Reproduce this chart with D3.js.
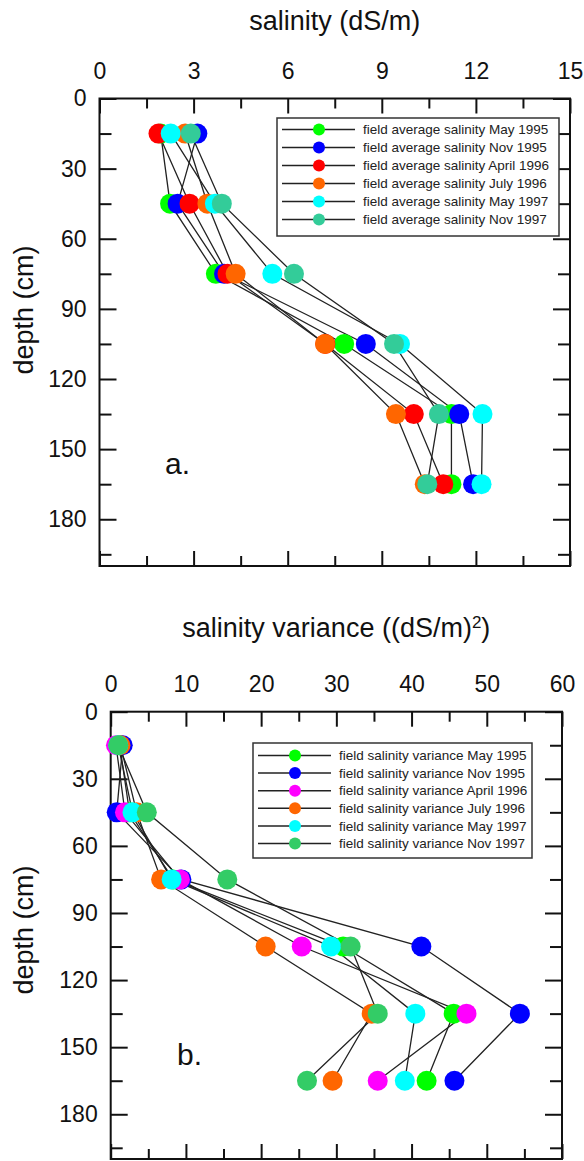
<!DOCTYPE html>
<html>
<head>
<meta charset="utf-8">
<script src="https://cdn.jsdelivr.net/npm/d3@7"></script>
<style>
  body { margin: 0; background: #fff; }
  svg { display: block; font-family: "Liberation Sans", Arial, Helvetica, sans-serif; }
</style>
</head>
<body>
<div id="chart"></div>
<script>
// sampling depths (cm)
var depths = [15, 45, 75, 105, 135, 165];

// panel a: field average salinity (dS/m)
var salMay95 = [1.95, 2.25, 3.71, 7.80, 11.22, 11.22];
var salNov95 = [3.12, 2.49, 3.97, 8.49, 11.47, 11.91];
var salApr96 = [1.88, 2.87, 4.08, 7.20, 10.02, 10.96];
var salJul96 = [2.73, 3.44, 4.34, 7.19, 9.45, 10.37];
var salMay97 = [2.27, 3.68, 5.51, 9.58, 12.21, 12.18];
var salNov97 = [2.91, 3.90, 6.20, 9.39, 10.82, 10.45];

// panel b: field salinity variance ((dS/m)^2)
var varMay95 = [1.2, 2.5, 8.3, 30.9, 45.6, 42.0];
var varNov95 = [1.6, 0.8, 9.4, 41.3, 54.4, 45.7];
var varApr96 = [0.7, 1.9, 9.2, 25.4, 47.3, 35.5];
var varJul96 = [1.3, 3.45, 6.7, 20.6, 34.7, 29.5];
var varMay97 = [1.0, 2.9, 8.1, 29.3, 40.5, 39.1];
var varNov97 = [1.0, 4.8, 15.5, 31.9, 35.5, 26.1];

var salNames = ["field average salinity May 1995", "field average salinity Nov 1995",
  "field average salinity April 1996", "field average salinity July 1996",
  "field average salinity May 1997", "field average salinity Nov 1997"];
var varNames = ["field salinity variance May 1995", "field salinity variance Nov 1995",
  "field salinity variance April 1996", "field salinity variance July 1996",
  "field salinity variance May 1997", "field salinity variance Nov 1997"];

var salColors = ["#00ff00", "#0000ff", "#ff0000", "#ff6600", "#00ffff", "#33cc99"];
var varColors = ["#00ff00", "#0000ff", "#ff00ff", "#ff6600", "#00ffff", "#33cc66"];

// tick values
var salTicks = [0, 3, 6, 9, 12, 15];
var salMinor = [1.5, 4.5, 7.5, 10.5, 13.5];
var varTicks = [0, 10, 20, 30, 40, 50, 60];
var varMinor = [5, 15, 25, 35, 45, 55];
var depthTicks = [0, 30, 60, 90, 120, 150, 180];
var depthMinor = [15, 45, 75, 105, 135, 165, 195];

var svg = d3.select("#chart").append("svg")
  .attr("width", 584)
  .attr("height", 1161);

function drawPanel(p) {
  var x = d3.scaleLinear().domain(p.xDomain).range([p.left, p.right]);
  var y = d3.scaleLinear().domain([0, 200]).range([p.top, p.bottom]);
  var g = svg.append("g");

  // ticks on all four sides, pointing inward
  function ticks(axisFn, scale, values, len, pos, labels, pad) {
    var ax = axisFn(scale).tickValues(values).tickSizeInner(-len).tickSizeOuter(0).tickPadding(pad || 0);
    if (!labels) ax.tickFormat("");
    var a = g.append("g").attr("transform", pos).call(ax);
    a.select(".domain").remove();
    a.selectAll("line").attr("stroke", "#111").attr("stroke-width", 2);
    a.selectAll("text").attr("font-size", 23).attr("fill", "#111")
      .attr("font-family", "Liberation Sans, Arial, sans-serif");
    return a;
  }
  ticks(d3.axisTop, x, p.xTicks, 15, "translate(0," + p.top + ")", true, 20);
  ticks(d3.axisTop, x, p.xMinor, 10, "translate(0," + p.top + ")");
  ticks(d3.axisBottom, x, p.xTicks, 15, "translate(0," + p.bottom + ")");
  ticks(d3.axisBottom, x, p.xMinor, 10, "translate(0," + p.bottom + ")");
  ticks(d3.axisLeft, y, depthTicks, 17, "translate(" + p.left + ",0)", true, 13);
  ticks(d3.axisLeft, y, depthMinor, 12, "translate(" + p.left + ",0)");
  ticks(d3.axisRight, y, depthTicks, 17, "translate(" + p.right + ",0)");
  ticks(d3.axisRight, y, depthMinor, 12, "translate(" + p.right + ",0)");

  g.append("rect")
    .attr("x", p.left).attr("y", p.top)
    .attr("width", p.right - p.left).attr("height", p.bottom - p.top)
    .attr("fill", "none").attr("stroke", "#111").attr("stroke-width", 2);

  // axis titles
  var title = g.append("text")
    .attr("x", (p.left + p.right) / 2).attr("y", p.titleY)
    .attr("text-anchor", "middle").attr("font-size", 27).attr("fill", "#111")
    .text(p.title);
  if (p.titleSup) {
    title.append("tspan").attr("baseline-shift", "super").attr("font-size", 17).text(p.titleSup);
    title.append("tspan").text(")");
  }
  g.append("text")
    .attr("transform", "translate(" + p.yTitleX + "," + p.yTitleY + ") rotate(-90)")
    .attr("text-anchor", "middle").attr("font-size", 27).attr("fill", "#111")
    .text("depth (cm)");

  g.append("text")
    .attr("x", p.tagX).attr("y", p.tagY)
    .attr("font-size", 30).attr("fill", "#111")
    .text(p.tag);

  // profile lines, then markers
  var line = d3.line()
    .x(function(d) { return x(d[0]); })
    .y(function(d) { return y(d[1]); });
  p.series.forEach(function(s) {
    g.append("path")
      .datum(s.map(function(v, i) { return [v, depths[i]]; }))
      .attr("d", line)
      .attr("fill", "none").attr("stroke", "#222").attr("stroke-width", 1.3);
  });
  p.series.forEach(function(s, k) {
    g.selectAll(null)
      .data(s)
      .enter()
      .append("circle")
      .attr("cx", function(d) { return x(d); })
      .attr("cy", function(d, i) { return y(depths[i]); })
      .attr("r", 10)
      .attr("fill", p.colors[k]);
  });

  // legend
  var L = p.legend;
  var lg = g.append("g");
  lg.append("rect")
    .attr("x", L.x).attr("y", L.y).attr("width", L.w).attr("height", L.h)
    .attr("fill", "#fff").attr("stroke", "#333").attr("stroke-width", 1.5);
  p.names.forEach(function(name, k) {
    var ry = L.y + L.first + k * L.step;
    lg.append("line")
      .attr("x1", L.x + 5).attr("x2", L.x + 78).attr("y1", ry).attr("y2", ry)
      .attr("stroke", "#222").attr("stroke-width", 1.5);
    lg.append("circle")
      .attr("cx", L.x + 42).attr("cy", ry).attr("r", 6).attr("fill", p.colors[k]);
    lg.append("text")
      .attr("x", L.x + 86).attr("y", ry).attr("dy", "0.35em")
      .attr("font-size", 13.5).attr("fill", "#222")
      .text(name);
  });
}

drawPanel({
  left: 99.5, right: 570, top: 98.5, bottom: 566,
  xDomain: [0, 15], xTicks: salTicks, xMinor: salMinor,
  title: "salinity (dS/m)", titleY: 30, yTitleX: 33, yTitleY: 310,
  tag: "a.", tagX: 165, tagY: 474,
  series: [salMay95, salNov95, salApr96, salJul96, salMay97, salNov97],
  colors: salColors, names: salNames,
  legend: { x: 277, y: 118, w: 282, h: 118, first: 11.5, step: 18 }
});

drawPanel({
  left: 110.7, right: 562, top: 711.7, bottom: 1159,
  xDomain: [0, 60], xTicks: varTicks, xMinor: varMinor,
  title: "salinity variance ((dS/m)", titleSup: "2", titleY: 637, yTitleX: 33, yTitleY: 930,
  tag: "b.", tagX: 177, tagY: 1065,
  series: [varMay95, varNov95, varApr96, varJul96, varMay97, varNov97],
  colors: varColors, names: varNames,
  legend: { x: 253, y: 743, w: 279, h: 115, first: 12.5, step: 17.6 }
});
</script>
</body>
</html>
